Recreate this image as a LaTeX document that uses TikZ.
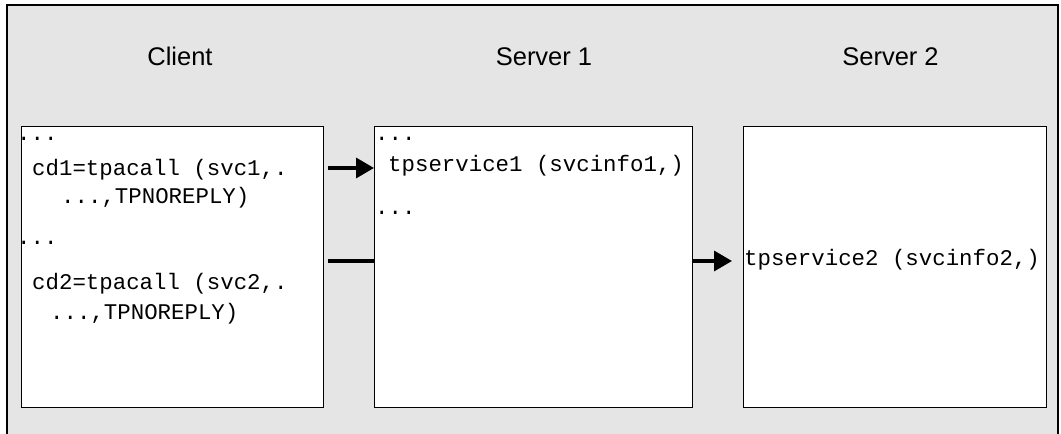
\documentclass[tikz,border=0pt]{standalone}
\usepackage{fontspec}
\setmainfont{Liberation Sans}
\newfontfamily\monofont{Liberation Mono}
\newfontfamily\headfont{Liberation Sans}
\usetikzlibrary{arrows.meta}
\definecolor{panelgray}{RGB}{229,229,229}
\tikzset{
  frameline/.style={line width=1.2bp, draw=black},
  codebox/.style={draw=black, line width=1.2bp, fill=white, inner sep=0pt, anchor=north west},
  header/.style={font=\headfont\fontsize{25.5bp}{30bp}\selectfont, anchor=base, inner sep=0pt},
  code/.style={font=\monofont\fontsize{22.4bp}{26bp}\selectfont, anchor=base west, inner sep=0pt},
  conn/.style={line width=3.5bp, draw=black},
  connarrow/.style={conn, -{Triangle[length=18bp, width=20bp]}}
}
\begin{document}
\begin{tikzpicture}[x=1bp, y=-1bp]
\useasboundingbox (0,0) rectangle (1061,434);
\fill[white] (0,0) rectangle (1061,434);
\fill[panelgray] (7,5) rectangle (1058,434);
\draw[frameline] (7,434) -- (7,5) -- (1058,5) -- (1058,434);

% headers
\node[header] (hclient) at (180,66) {Client};
\node[header] (hs1) at (544,66) {Server 1};
\node[header] (hs2) at (890.5,66) {Server 2};

% boxes
\node[codebox, minimum width=302bp, minimum height=281bp] (client) at (21,126) {};
\node[codebox, minimum width=318bp, minimum height=281bp] (s1) at (374,126) {};
\node[codebox, minimum width=303bp, minimum height=281bp] (s2) at (743,126) {};

% client text
\node[code] (c1) at (17,141) {...};
\node[code] (c2) at (32,176) {cd1=tpacall (svc1,.};
\node[code] (c3) at (61,204) {...,TPNOREPLY)};
\node[code] (c4) at (17,245) {...};
\node[code] (c5) at (32,290) {cd2=tpacall (svc2,.};
\node[code] (c6) at (50,320) {...,TPNOREPLY)};

% server 1 text
\node[code] (s1a) at (375,141) {...};
\node[code] (s1b) at (388,172) {tpservice1 (svcinfo1,)};
\node[code] (s1c) at (375,215) {...};

% server 2 text
\node[code] (s2a) at (744,266) {tpservice2 (svcinfo2,)};

% connectors
\draw[connarrow] ([shift={(4,42)}]client.north east) -- ([shift={(0,42)}]s1.north west);
\draw[conn] ([shift={(4,135)}]client.north east) -- ([shift={(0,135)}]s1.north west);
\draw[connarrow, shorten >=11bp] ([shift={(0,135)}]s1.north east) -- ([shift={(0,135)}]s2.north west);
\end{tikzpicture}
\end{document}
